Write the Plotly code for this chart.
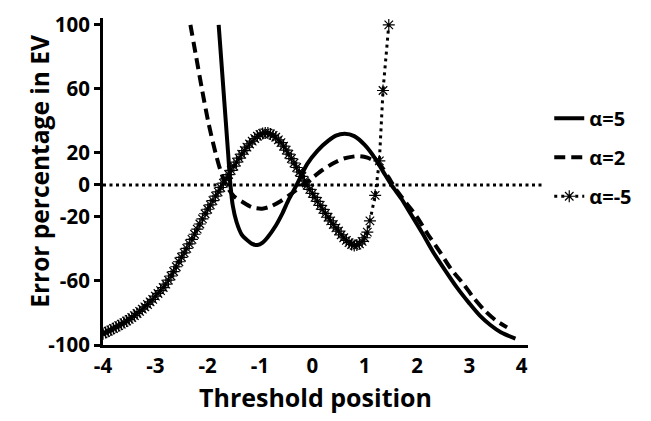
import plotly.graph_objects as go

# ---- data ----
x_a5 = [-1.79, -1.745, -1.70, -1.655, -1.61, -1.565, -1.52, -1.45, -1.35, -1.27, -1.15, -1.05,
        -0.95, -0.85, -0.70, -0.57, -0.45, -0.30, -0.10, 0.10, 0.30, 0.45, 0.62, 0.80, 1.00,
        1.20, 1.35, 1.51, 1.70, 1.87, 2.10, 2.31, 2.55, 2.76, 3.00, 3.21, 3.40, 3.60, 3.88]
y_a5 = [100, 80, 60, 40, 20, 0, -13, -23, -31, -33.8, -36.8, -37.5,
        -36, -32.5, -25.5, -17.6, -9, 0, 13, 21.5, 27.5, 30.8, 32, 30.5, 25,
        16.5, 8.5, 0, -8.5, -17.6, -30, -42, -54, -64, -74, -82, -87.5, -92, -96]

x_a2 = [-2.33, -2.22, -2.11, -1.98, -1.85, -1.75, -1.65, -1.50, -1.34, -1.15, -0.96, -0.80,
        -0.60, -0.40, -0.20, 0.00, 0.20, 0.40, 0.60, 0.87, 1.05, 1.29, 1.45, 1.61, 1.80,
        1.99, 2.20, 2.44, 2.65, 2.89, 3.08, 3.28, 3.50, 3.72]
y_a2 = [100, 80, 60, 38, 20, 8.5, 0, -7, -10.5, -14, -14.8, -13.5,
        -10, -5.5, -0.5, 4.5, 9.5, 13.5, 16.5, 18, 17, 12.7, 5, -3.4, -11.5,
        -19.6, -30.5, -42, -52.5, -62, -70.5, -78, -84.5, -89]

x_am5 = [-4.00, -3.95, -3.90, -3.85, -3.80, -3.75, -3.70, -3.65, -3.60, -3.55,
         -3.50, -3.45, -3.40, -3.35, -3.30, -3.25, -3.20, -3.15, -3.10, -3.05,
         -3.00, -2.95, -2.90, -2.85, -2.80, -2.75, -2.70, -2.65, -2.60, -2.55,
         -2.50, -2.45, -2.40, -2.35, -2.30, -2.25, -2.20, -2.15, -2.10, -2.05,
         -2.00, -1.95, -1.90, -1.85, -1.80, -1.75, -1.70, -1.65, -1.60, -1.55,
         -1.50, -1.45, -1.40, -1.35, -1.30, -1.25, -1.20, -1.15, -1.10, -1.05,
         -1.00, -0.95, -0.90, -0.85, -0.80, -0.75, -0.70, -0.65, -0.60, -0.55,
         -0.50, -0.45, -0.40, -0.35, -0.30, -0.25, -0.20, -0.15, -0.10, -0.05,
         0.00, 0.05, 0.10, 0.15, 0.20, 0.25, 0.30, 0.35, 0.40, 0.45,
         0.50, 0.55, 0.60, 0.65, 0.70, 0.75, 0.80, 0.85, 0.90, 0.95,
         1.00, 1.05, 1.10, 1.20, 1.28, 1.35, 1.46]
y_am5 = [-93.0, -92.2, -91.4, -90.6, -89.7, -88.8, -87.9, -87.0, -86.0, -85.0,
         -84.0, -82.8, -81.6, -80.3, -79.0, -77.6, -76.2, -74.7, -73.1, -71.5,
         -69.5, -67.8, -66.0, -64.1, -62.0, -59.5, -56.9, -54.1, -51.1, -48.0,
         -45.2, -42.4, -39.6, -36.8, -34.0, -30.8, -27.6, -24.4, -21.2, -18.0,
         -15.2, -12.5, -9.8, -7.0, -4.3, -1.6, 1.1, 3.8, 6.5, 9.1,
         11.7, 14.3, 16.8, 19.2, 21.5, 23.6, 25.6, 27.4, 29.0, 30.4,
         31.5, 32.2, 32.5, 32.4, 31.9, 31.0, 29.8, 28.2, 26.4, 24.2,
         21.8, 19.2, 16.5, 13.7, 10.9, 8.1, 5.3, 2.5, -0.2, -2.8,
         -5.3, -7.8, -10.3, -12.8, -15.3, -17.8, -20.2, -22.5, -24.7, -26.8,
         -28.8, -31.2, -33.0, -34.6, -36.0, -37.2, -37.8, -37.6, -36.8, -35.3,
         -33.0, -29.5, -22.5, -6.5, 15.0, 59.0, 100.0]

x_ticks = [-4, -3, -2, -1, 0, 1, 2, 3, 4]
y_ticks = [100, 60, 20, 0, -20, -60, -100]
x_range = [-4.0, 4.12]
y_range = [-100.0, 104.3]

FONT = "Open Sans"

fig = go.Figure()
fig.add_trace(go.Scatter(x=x_a5, y=y_a5, mode="lines", name="α=5",
                         line=dict(color="black", width=4, shape="spline", smoothing=0.8),
                         legendgroup="a"))
fig.add_trace(go.Scatter(x=x_a2, y=y_a2, mode="lines", name="α=2",
                         line=dict(color="black", width=4, shape="spline", smoothing=0.8,
                                   dash="11px,6px"),
                         legendgroup="b"))
fig.add_trace(go.Scatter(x=x_am5, y=y_am5, mode="lines+markers", name="α=-5",
                         line=dict(color="black", width=3, dash="3px,4px"),
                         marker=dict(symbol="asterisk-open", size=10,
                                     line=dict(color="black", width=1.2)),
                         legendgroup="c"))

zero_pos = (0 - y_range[0]) / (y_range[1] - y_range[0])
fig.add_shape(type="line", xref="paper", yref="paper", x0=0, x1=1.04,
              y0=zero_pos, y1=zero_pos,
              line=dict(color="black", width=3, dash="3px,3.5px"), layer="below")

fig.add_annotation(text="Error percentage in EV", textangle=-90,
                   xref="paper", yref="paper", x=-0.148, y=0.53,
                   xanchor="center", yanchor="middle", showarrow=False,
                   font=dict(family=FONT, size=24.5, weight="bold", color="black"))

fig.update_layout(
    width=651, height=421,
    margin=dict(l=103, r=123, t=10, b=76),
    paper_bgcolor="white", plot_bgcolor="white",
    font=dict(family=FONT, color="black"),
    showlegend=True,
    legend=dict(x=1.05, y=0.753, xanchor="left", yanchor="top",
                font=dict(family=FONT, size=20, weight="bold"),
                traceorder="grouped", tracegroupgap=10,
                bgcolor="rgba(0,0,0,0)"),
    xaxis=dict(range=x_range, tickvals=x_ticks, ticktext=[str(v) for v in x_ticks],
               showline=True, linecolor="black", linewidth=3, ticks="",
               showgrid=False, zeroline=False,
               tickfont=dict(family=FONT, size=20.5, weight="bold"),
               title=dict(text="Threshold position", standoff=12,
                          font=dict(family=FONT, size=25, weight="bold"))),
    yaxis=dict(range=y_range, tickvals=y_ticks, ticktext=[str(v) for v in y_ticks],
               showline=True, linecolor="black", linewidth=3,
               ticks="outside", ticklen=6, tickwidth=3, tickcolor="black",
               showgrid=False, zeroline=False,
               tickfont=dict(family=FONT, size=20.5, weight="bold")),
)

fig.write_html("out.html")
